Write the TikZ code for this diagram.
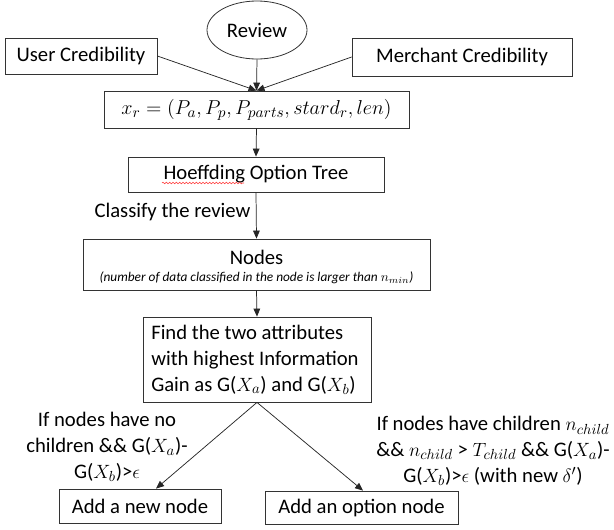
\documentclass[tikz,border=0pt]{standalone}
\usepackage{graphicx}
\usepackage{fontspec}
\setmainfont{Carlito}
\usetikzlibrary{arrows.meta,shapes.geometric,decorations.pathmorphing}
\tikzset{
  box/.style={draw=black!80, line width=0.6pt, inner sep=0pt, rectangle, font=\fontsize{15.5}{19}\selectfont},
  conn/.style={draw=black!85, line width=0.55pt, -{Triangle[length=6pt,width=5pt]}},
  lbl/.style={inner sep=0pt, align=center, font=\fontsize{15.5}{19.2}\selectfont},
}
\begin{document}
\begin{tikzpicture}[x=0.75pt,y=-0.75pt]
\useasboundingbox (0,0) rectangle (614,529);
% nodes
\node[box, ellipse, minimum width=100*0.75pt, minimum height=58*0.75pt] (review) at (257,30) {Review};
\node[box, minimum width=152*0.75pt, minimum height=36*0.75pt] (user) at (81,56) {User Credibility};
\node[box, minimum width=220*0.75pt, minimum height=38*0.75pt] (merchant) at (462,57) {Merchant Credibility};
\node[box, minimum width=305*0.75pt, minimum height=37*0.75pt] (xr) at (256.5,109.5) {\scalebox{1.05}{$x_r = (P_a, P_p, P_{parts}, stard_r, len)$}};
\node[box, minimum width=256*0.75pt, minimum height=35*0.75pt] (hot) at (256,174.5) {Hoeffding Option Tree};
\node[box, minimum width=347*0.75pt, minimum height=51*0.75pt] (nodes) at (256.5,264.5) {};
\node[inner sep=0pt, font=\fontsize{15.5}{19}\selectfont] (nodest) at (256.5,257) {Nodes};
\node[inner sep=0pt, font=\fontsize{10}{12}\selectfont\itshape] (nodess) at (256.5,277.5) {(number of data classified in the node is larger than $n_{min}$)};
\node[box, minimum width=228*0.75pt, minimum height=85*0.75pt] (find) at (257,359.5) {};
\node[lbl, align=left, anchor=west] (findt) at (151,360) {Find the two attributes\\with highest Information\\Gain as G($X_a$) and G($X_b$)};
\node[box, minimum width=162*0.75pt, minimum height=34*0.75pt] (addnew) at (140,506) {Add a new node};
\node[box, minimum width=193*0.75pt, minimum height=33*0.75pt] (addopt) at (361.5,507.5) {Add an option node};
% labels
\node[lbl] (classify) at (172.5,212) {Classify the review};
\node[lbl] (leftl) at (107,447) {If nodes have no\\children \&\& G($X_a$)-\\G($X_b$)>$\epsilon$};
\node[lbl] (rightl) at (493,451) {If nodes have children $n_{child}$\\\&\& $n_{child}$ > $T_{child}$ \&\& G($X_a$)-\\G($X_b$)>$\epsilon$ (with new $\delta'$)};
% connectors
\draw[conn] (user.east) -- (xr.north);
\draw[conn] (merchant.west) -- (xr.north);
\draw[conn] (review.south) -- (xr.north);
\draw[conn] (xr.south) -- (hot.north);
\draw[conn] (hot.south) -- (nodes.north);
\draw[conn] (nodes.south) -- (find.north);
\draw[conn] (find.south) -- ([xshift=16*0.75pt]addnew.north);
\draw[conn] (find.south) -- ([xshift=1.5*0.75pt]addopt.north);
% spell-check squiggle
\draw[red!80, line width=0.4pt, decorate, decoration={snake, amplitude=0.6pt, segment length=2.5pt}] (162,183) -- (244,183);
\end{tikzpicture}
\end{document}
